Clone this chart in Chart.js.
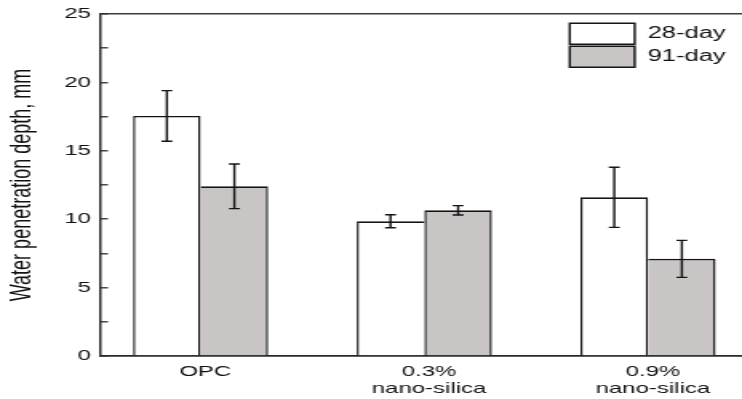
<!DOCTYPE html>
<html>
<head>
<meta charset="utf-8">
<script src="https://cdn.jsdelivr.net/npm/chart.js@4"></script>
<style>
  html, body { margin: 0; padding: 0; background: #ffffff; overflow: hidden; }
  /* the figure is drawn on a narrow canvas and widened to the page width */
  #frame { width: 464px; height: 399px; transform: scaleX(1.5991); transform-origin: 0 0; }
  canvas { display: block; }
</style>
</head>
<body>
<div id="frame"><canvas id="chart" width="464" height="399"></canvas></div>
<script>
// Mix designs along the x axis
const categories = ['OPC', '0.3% nano-silica', '0.9% nano-silica'];
const tickLabels = [['OPC'], ['0.3%', 'nano-silica'], ['0.9%', 'nano-silica']];
const seriesNames = ['28-day', '91-day'];

// Water penetration depth (mm) and its spread
const depth28 = [17.55, 9.85, 11.6];
const err28 = [1.85, 0.47, 2.2];
const depth91 = [12.4, 10.65, 7.1];
const err91 = [1.63, 0.34, 1.35];

// y axis ticks: every 2.5 mm, numbered every 5 mm
const yTicks = { min: 0, max: 25, step: 2.5, labelEvery: 5 };

const INK = '#141414';
const TEXT = '#111111';
const FONT = '"Liberation Sans", Arial, sans-serif';
const SIDE = 1.45;  // vertical edge width
const TOP = 1.7;    // horizontal edge width

const points = vals => vals.map((v, i) => ({ x: i + 1, y: v }));

// vertical error bars with short caps, placed on each bar
const errorBars = {
  id: 'errorBars',
  afterDatasetsDraw(chart) {
    const { ctx } = chart;
    const yScale = chart.scales.y;
    chart.data.datasets.forEach((ds, d) => {
      const meta = chart.getDatasetMeta(d);
      meta.data.forEach((bar, i) => {
        const v = ds.data[i].y;
        const e = ds.errors[i];
        const yHi = yScale.getPixelForValue(v + e);
        const yLo = yScale.getPixelForValue(v - e);
        const cap = 3.4;
        ctx.save();
        ctx.strokeStyle = INK;
        ctx.lineWidth = 1.4;
        ctx.beginPath();
        ctx.moveTo(bar.x, yHi); ctx.lineTo(bar.x, yLo);
        ctx.moveTo(bar.x - cap, yHi); ctx.lineTo(bar.x + cap, yHi);
        ctx.moveTo(bar.x - cap, yLo); ctx.lineTo(bar.x + cap, yLo);
        ctx.stroke();
        ctx.restore();
      });
    });
  }
};

// legend sits inside the plot, near the top right corner
const legendInside = {
  id: 'legendInside',
  afterLayout(chart) {
    const lg = chart.legend;
    const area = chart.chartArea;
    lg.left = area.right - 109.7;
    lg.right = area.right;
    lg.top = area.top + 7.3;
    lg.bottom = area.bottom;
  }
};

new Chart(document.getElementById('chart'), {
  type: 'bar',
  data: {
    datasets: [
      {
        label: seriesNames[0],
        data: points(depth28),
        errors: err28,
        backgroundColor: '#ffffff',
        borderColor: INK,
        borderSkipped: 'bottom',
        borderWidth: c => ({ top: TOP, left: SIDE, bottom: 0,
          right: depth28[c.dataIndex] >= depth91[c.dataIndex] ? SIDE : 0 })
      },
      {
        label: seriesNames[1],
        data: points(depth91),
        errors: err91,
        backgroundColor: '#c9c5c5',
        borderColor: INK,
        borderSkipped: 'bottom',
        borderWidth: c => ({ top: TOP, right: SIDE, bottom: 0,
          left: depth91[c.dataIndex] > depth28[c.dataIndex] ? SIDE : 0 })
      }
    ]
  },
  options: {
    responsive: false,
    animation: false,
    devicePixelRatio: 1,
    layout: { padding: { top: 14, left: 0, right: 0, bottom: 0 } },
    datasets: { bar: { barPercentage: 1, categoryPercentage: 0.604 } },
    scales: {
      x: {
        type: 'linear',
        offset: false,
        min: 0.55,
        max: 3.42,
        afterBuildTicks: s => { s.ticks = categories.map((_, i) => ({ value: i + 1 })); },
        afterFit: s => { s.height = 43; },
        ticks: {
          autoSkip: false,
          maxRotation: 0,
          padding: 7,
          labelOffset: 3,
          color: TEXT,
          font: { family: FONT, size: 15, lineHeight: 1.13 },
          callback: v => tickLabels[Math.round(v) - 1]
        },
        grid: { display: true, offset: false, drawOnChartArea: false, drawTicks: false },
        border: { display: true, color: '#2a2a2a', width: 1.7 }
      },
      y: {
        min: yTicks.min,
        max: yTicks.max,
        afterFit: s => { s.width = 62.5; s.paddingTop = 0; s.paddingBottom = 0; },
        ticks: {
          stepSize: yTicks.step,
          padding: 10.6,
          color: TEXT,
          font: { family: FONT, size: 15 },
          callback: v => (v % yTicks.labelEvery === 0 ? String(v) : '')
        },
        grid: {
          display: true,
          drawOnChartArea: true,
          drawTicks: true,
          tickLength: -5,
          tickWidth: 1.3,
          tickColor: '#2a2a2a',
          lineWidth: 1.6,
          color: c => (c.tick && c.tick.value === yTicks.max ? '#3c3c3c' : 'rgba(0,0,0,0)')
        },
        border: { display: true, color: '#2a2a2a', width: 1.45 },
        title: {
          display: true,
          text: 'Water penetration depth, mm',
          color: TEXT,
          padding: { top: 3, bottom: 0 },
          font: { family: FONT, size: 18 }
        }
      }
    },
    plugins: {
      tooltip: { enabled: false },
      legend: {
        position: 'chartArea',
        align: 'start',
        labels: {
          boxWidth: 40.6,
          boxHeight: 21,
          padding: 2,
          color: TEXT,
          font: { family: FONT, size: 16 },
          generateLabels: chart => Chart.defaults.plugins.legend.labels.generateLabels(chart)
            .map(item => Object.assign(item, { lineWidth: 1.45, strokeStyle: INK }))
        }
      }
    }
  },
  plugins: [legendInside, errorBars]
});
</script>
</body>
</html>
